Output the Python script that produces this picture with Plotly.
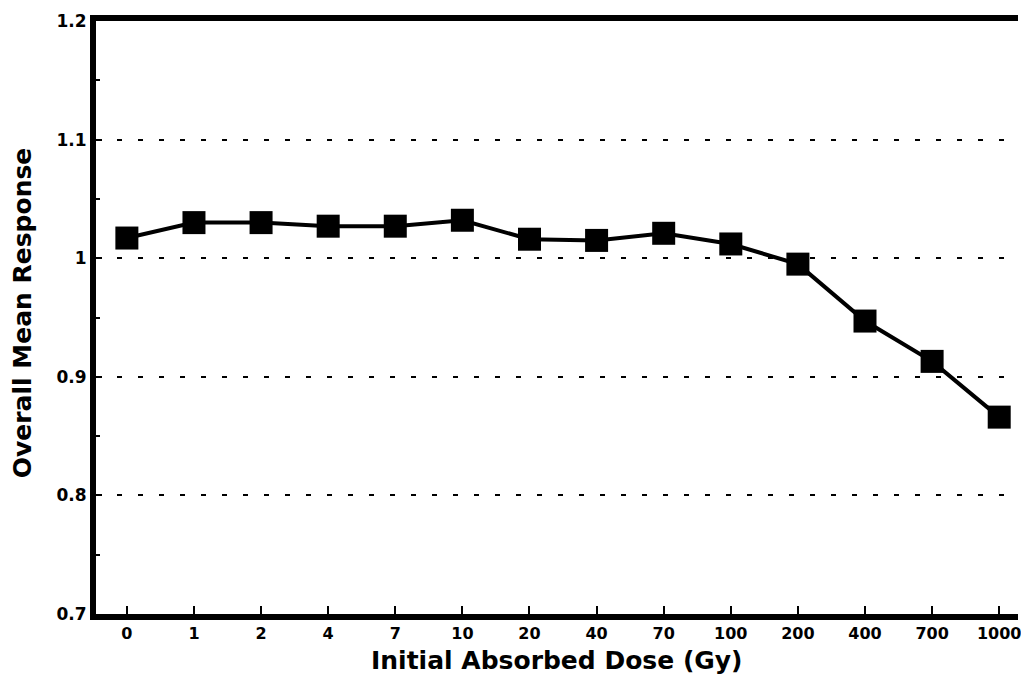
import plotly.graph_objects as go

doses = ["0", "1", "2", "4", "7", "10", "20", "40", "70", "100", "200", "400", "700", "1000"]
response = [1.017, 1.030, 1.030, 1.027, 1.027, 1.032, 1.016, 1.015, 1.021, 1.012, 0.995, 0.947, 0.913, 0.866]
y_ticks = [0.7, 0.8, 0.9, 1.0, 1.1, 1.2]
y_tick_text = ["0.7", "0.8", "0.9", "1", "1.1", "1.2"]

FONT = "DejaVu Sans"

fig = go.Figure()
fig.add_trace(go.Scatter(
    x=list(range(len(doses))), y=response, mode="lines+markers",
    line=dict(color="black", width=4),
    marker=dict(symbol="square", size=23, color="black"),
    showlegend=False,
))

fig.update_layout(
    width=1013, height=667,
    margin=dict(l=88, r=0, t=13, b=61),
    paper_bgcolor="white", plot_bgcolor="white",
    font=dict(family=FONT, color="black"),
    xaxis=dict(
        range=[-0.46, 13.28],
        tickmode="array", tickvals=list(range(len(doses))),
        ticktext=["<b>%s</b>" % d for d in doses],
        showline=True, linecolor="black", linewidth=6, mirror=True,
        ticks="inside", ticklen=8, tickwidth=1.5, tickcolor="black",
        showgrid=False, zeroline=False,
        ticklabeloverflow="allow",
        tickfont=dict(size=16, family=FONT),
    ),
    yaxis=dict(
        range=[0.7, 1.2],
        tickmode="array", tickvals=y_ticks,
        ticktext=["<b>%s</b>" % t for t in y_tick_text],
        showline=True, linecolor="black", linewidth=6, mirror=False,
        ticks="inside", ticklen=6, tickwidth=1.5, tickcolor="black",
        minor=dict(dtick=0.05, ticks="inside", ticklen=4, tickcolor="black", showgrid=False),
        showgrid=True, gridcolor="black", gridwidth=2, griddash="5px,16px",
        zeroline=False,
        tickfont=dict(size=17, family=FONT),
    ),
    annotations=[
        dict(text="<b>Initial Absorbed Dose (Gy)</b>", xref="paper", yref="paper",
             x=0.5, y=-0.079, xanchor="center", yanchor="middle", showarrow=False,
             font=dict(size=25, family=FONT, color="black")),
        dict(text="<b>Overall Mean Response</b>", xref="paper", yref="paper",
             x=-0.0789, y=0.5076, xanchor="center", yanchor="middle", showarrow=False,
             textangle=-90, font=dict(size=25, family=FONT, color="black")),
    ],
)

fig.write_html("out.html")
